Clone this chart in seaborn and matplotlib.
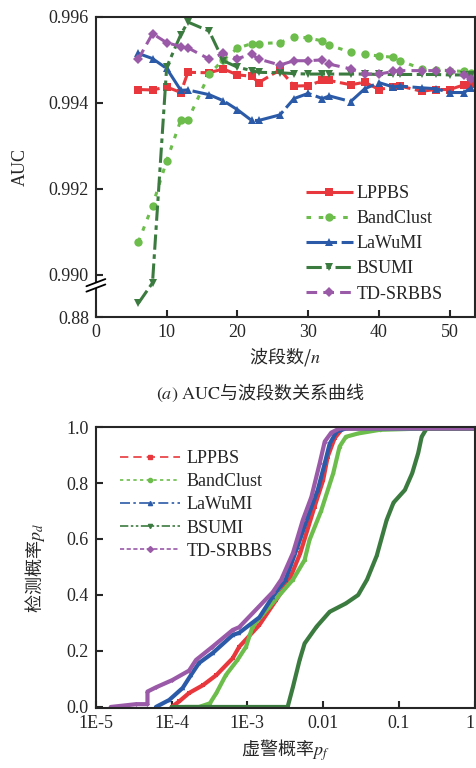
import matplotlib
matplotlib.use("Agg")
import matplotlib.pyplot as plt
from matplotlib.lines import Line2D
from matplotlib.patches import Polygon
import numpy as np
import seaborn as sns

# ---- data: AUC vs number of bands (panel a) ----
methods = ["LPPBS", "BandClust", "LaWuMI", "BSUMI", "TD-SRBBS"]
bands = [6, 8, 10, 12, 13, 16, 18, 20, 22, 23, 26, 28, 30, 32, 33, 36, 38, 40, 42, 43, 46, 48, 50, 52, 53]
auc_lppbs = [0.99431, 0.99430, 0.99437, 0.99424, 0.99471, 0.99470, 0.99479, 0.99465, 0.99462, 0.99447,
             0.99477, 0.99439, 0.99440, 0.99452, 0.99452, 0.99442, 0.99448, 0.99431, 0.99437, 0.99439,
             0.99427, 0.99431, 0.99431, 0.99442, 0.99444]
auc_bandclust = [0.99076, 0.99161, 0.99265, 0.99360, 0.99360, 0.99467, 0.99500, 0.99527, 0.99538, 0.99538,
                 0.99540, 0.99554, 0.99551, 0.99544, 0.99534, 0.99518, 0.99513, 0.99509, 0.99506, 0.99498,
                 0.99479, 0.99477, 0.99475, 0.99473, 0.99470]
auc_lawumi = [0.99515, 0.99503, 0.99480, 0.99429, 0.99430, 0.99419, 0.99405, 0.99384, 0.99359, 0.99359,
              0.99372, 0.99410, 0.99422, 0.99410, 0.99416, 0.99403, 0.99433, 0.99447, 0.99437, 0.99439,
              0.99435, 0.99433, 0.99424, 0.99424, 0.99435]
auc_bsumi = [0.9160, 0.9690, 0.99483, 0.99559, 0.99588, 0.99567, 0.99498, 0.99483, 0.99475, 0.99471,
             0.99470, 0.99468, 0.99467, 0.99467, 0.99467, 0.99467, 0.99467, 0.99466, 0.99466, 0.99466,
             0.99466, 0.99466, 0.99465, 0.99465, 0.99465]
auc_tdsrbbs = [0.99502, 0.99561, 0.99540, 0.99531, 0.99528, 0.99502, 0.99515, 0.99503, 0.99513, 0.99502,
               0.99488, 0.99498, 0.99498, 0.99500, 0.99490, 0.99479, 0.99467, 0.99467, 0.99473, 0.99475,
               0.99475, 0.99475, 0.99475, 0.99465, 0.99456]
auc_values = [auc_lppbs, auc_bandclust, auc_lawumi, auc_bsumi, auc_tdsrbbs]

# ---- data: ROC curves (panel b) ----
pf_lppbs = [1.0e-4, 1.26e-4, 1.7e-4, 2.6e-4, 3.9e-4, 6.4e-4, 7.8e-4, 1.44e-3, 2.4e-3, 3.6e-3, 5.0e-3,
            7.7e-3, 1.0e-2, 1.15e-2, 1.42e-2, 1.8e-2, 1.0]
pd_lppbs = [0, 0.02, 0.05, 0.078, 0.114, 0.174, 0.215, 0.293, 0.382, 0.455, 0.55,
            0.715, 0.81, 0.894, 0.96, 0.995, 0.995]
pf_bandclust = [1.5e-4, 2.3e-4, 3.2e-4, 3.9e-4, 5.2e-4, 7.4e-4, 9.6e-4, 1.17e-3, 1.95e-3, 4.0e-3, 5.7e-3,
                6.6e-3, 9.4e-3, 1.36e-2, 1.65e-2, 2.0e-2, 2.9e-2, 5.6e-2, 0.233, 1.0]
pd_bandclust = [0, 0, 0.013, 0.05, 0.114, 0.168, 0.215, 0.287, 0.358, 0.455, 0.525,
                0.596, 0.70, 0.835, 0.93, 0.965, 0.977, 0.99, 0.995, 0.995]
pf_lawumi = [6.2e-5, 9.3e-5, 1.4e-4, 1.8e-4, 2.3e-4, 3.5e-4, 6.4e-4, 7.8e-4, 1.44e-3, 2.16e-3, 3.2e-3,
             4.6e-3, 6.3e-3, 8.5e-3, 1.05e-2, 1.22e-2, 1.5e-2, 2.0e-2, 1.0]
pd_lawumi = [0, 0.025, 0.068, 0.114, 0.157, 0.193, 0.257, 0.265, 0.32, 0.394, 0.455,
             0.573, 0.68, 0.775, 0.87, 0.94, 0.983, 0.995, 0.995]
pf_bsumi = [1.0e-4, 3.4e-3, 4.0e-3, 4.9e-3, 5.7e-3, 8.2e-3, 1.22e-2, 2.0e-2, 2.9e-2, 3.8e-2, 5.1e-2,
            6.9e-2, 8.5e-2, 0.12, 0.15, 0.18, 0.20, 0.233, 1.0]
pd_bsumi = [0, 0, 0.072, 0.168, 0.227, 0.287, 0.34, 0.37, 0.40, 0.455, 0.54,
            0.668, 0.73, 0.775, 0.835, 0.907, 0.965, 0.995, 0.995]
pf_tdsrbbs = [1.57e-5, 3.4e-5, 4.8e-5, 4.8e-5, 6.2e-5, 1.02e-4, 1.7e-4, 2.1e-4, 3.46e-4, 6.4e-4, 7.8e-4,
              2.16e-3, 2.8e-3, 4.0e-3, 5.4e-3, 7.0e-3, 9.0e-3, 1.05e-2, 1.28e-2, 1.65e-2, 1.0]
pd_tdsrbbs = [0, 0.01, 0.01, 0.055, 0.07, 0.096, 0.13, 0.168, 0.215, 0.275, 0.285,
              0.41, 0.455, 0.55, 0.668, 0.75, 0.87, 0.948, 0.98, 0.995, 0.995]
pf_values = [pf_lppbs, pf_bandclust, pf_lawumi, pf_bsumi, pf_tdsrbbs]
pd_values = [pd_lppbs, pd_bandclust, pd_lawumi, pd_bsumi, pd_tdsrbbs]

colors = ["#e8383d", "#6cbd4c", "#2b5ba8", "#3c7b40", "#9a5aa8"]
markers = ["s", "o", "^", "v", "D"]
top_styles = [(0, (7, 1.5)), (0, (1.5, 2.5)), (0, (10, 1.5)), (0, (5, 1.5, 1.5, 1.5)), (0, (3.5, 2))]
bottom_styles = [(0, (5, 3)), (0, (2, 2)), (0, (6, 2, 1.5, 2)), (0, (5, 1.5, 1.5, 1.5, 1.5, 1.5)), (0, (2.5, 1.5))]

sns.set_style("ticks")
plt.rcParams["font.family"] = ["Liberation Serif", "Noto Sans CJK SC"]
plt.rcParams["mathtext.fontset"] = "stix"
plt.rcParams["axes.linewidth"] = 1.5
CJK = "Noto Sans CJK SC"

fig = plt.figure(figsize=(4.77, 7.68), dpi=100)
ax1 = fig.add_axes([0.201, 0.587, 0.794, 0.391])
ax2 = fig.add_axes([0.201, 0.078, 0.794, 0.366])

# broken y axis: compress 0.88-0.990 into a short strip
BRK = 0.990
K = 0.00898


def fwd(y):
    y = np.asarray(y, dtype=float)
    return np.where(y >= BRK, y, BRK - (BRK - y) * K)


def inv(z):
    z = np.asarray(z, dtype=float)
    return np.where(z >= BRK, z, BRK - (BRK - z) / K)


ax1.set_yscale("function", functions=(fwd, inv))

for name, vals, c, m, ls in zip(methods, auc_values, colors, markers, top_styles):
    sns.lineplot(x=bands, y=vals, ax=ax1, color=c, marker=m, markersize=6 if m != "D" else 5.5,
                 markeredgewidth=0, linestyle=ls, linewidth=2.2, label=name,
                 estimator=None, sort=False)

ax1.set_xlim(0, 53.5)
ax1.set_ylim(0.88, 0.996)
ax1.set_xticks([0, 10, 20, 30, 40, 50])
ax1.set_yticks([0.88, 0.990, 0.992, 0.994, 0.996])
ax1.set_yticklabels(["0.88", "0.990", "0.992", "0.994", "0.996"])
ax1.minorticks_off()
ax1.tick_params(direction="in", length=5, width=1.5, labelsize=13, pad=5)
ax1.set_xlabel("波段数/$n$", fontsize=13, family=CJK, labelpad=3)
ax1.set_ylabel("AUC", fontsize=13, labelpad=14)
ax1.legend(loc="upper left", bbox_to_anchor=(0.53, 0.47), frameon=False, fontsize=13,
           handlelength=2.6, handletextpad=0.2, labelspacing=0.45, borderpad=0)

# break marks on the left spine
tr = ax1.transAxes
ax1.add_patch(Polygon([[-0.025, 0.103], [0.025, 0.127], [0.025, 0.109], [-0.025, 0.085]],
                      closed=True, transform=tr, facecolor="white", edgecolor="none",
                      clip_on=False, zorder=5))
ax1.plot([-0.025, 0.025], [0.103, 0.127], transform=tr, color="black", lw=1.3, clip_on=False, zorder=6)
ax1.plot([-0.025, 0.025], [0.085, 0.109], transform=tr, color="black", lw=1.3, clip_on=False, zorder=6)

fig.text(0.547, 0.489, r"$(a)\ \mathrm{AUC}$与波段数关系曲线", ha="center", va="center",
         fontsize=13, family=CJK)

# ROC curves
for name, xs, ys, c, m in zip(methods, pf_values, pd_values, colors, markers):
    sns.lineplot(x=xs, y=ys, ax=ax2, color=c, marker=m, markersize=2.5, markeredgewidth=0,
                 linewidth=3, estimator=None, sort=False, legend=False)

ax2.set_xscale("log")
ax2.set_xlim(1e-5, 1)
ax2.set_ylim(-0.004, 1.0)
ax2.set_xticks([1e-5, 1e-4, 1e-3, 1e-2, 1e-1, 1])
ax2.set_xticklabels(["1E-5", "1E-4", "1E-3", "0.01", "0.1", "1"])
ax2.get_xticklabels()[-1].set_horizontalalignment("right")
ax2.set_yticks([0.0, 0.2, 0.4, 0.6, 0.8, 1.0])
ax2.set_yticklabels(["0.0", "0.2", "0.4", "0.6", "0.8", "1.0"])
ax2.minorticks_off()
ax2.tick_params(direction="in", length=5, width=1.5, labelsize=13, pad=5)
ax2.set_xlabel("虚警概率$p_f$", fontsize=13, family=CJK, labelpad=4)
ax2.set_ylabel("检测概率$p_d$", fontsize=13, family=CJK, labelpad=14)

handles = [Line2D([], [], color=c, linestyle=ls, linewidth=1.2, marker=m, markersize=3)
           for c, ls, m in zip(colors, bottom_styles, markers)]
ax2.legend(handles, methods, loc="upper left", bbox_to_anchor=(0.04, 0.95), frameon=False,
           fontsize=13, handlelength=3.3, handletextpad=0.4, labelspacing=0.34, borderpad=0)

fig.savefig("out.png", dpi=100)
